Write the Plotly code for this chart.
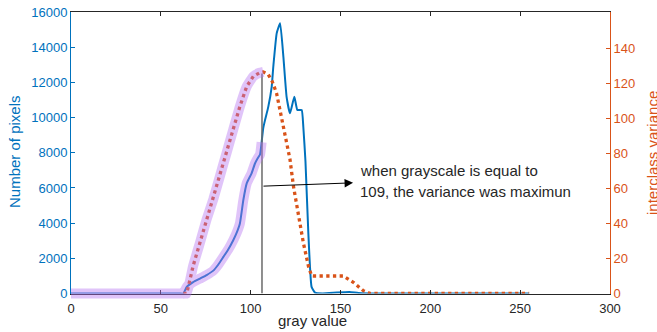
import plotly.graph_objects as go

# ---------------- data ----------------
hist_gray = [0, 20, 40, 60, 62.5, 64.4, 68, 71.8, 75.5, 79.2, 82, 84.8, 87.5, 90.3, 92, 94,
             95.9, 97.8, 100.5, 102.4, 104, 105.2, 106.1, 107, 108, 109.8, 111.7, 112.6,
             114.5, 116.4, 118.2, 120, 121.9, 124.3, 126, 128.4, 129.3, 130.5, 132.1,
             133.9, 135.8, 140, 148, 155, 160, 170, 200, 255]
hist_count = [0, 0, 0, 0, 0, 375, 650, 850, 1050, 1300, 1650, 2080, 2500, 3030, 3400, 3980,
              5300, 6260, 6830, 7390, 7700, 7900, 8600, 9400, 9860, 10610, 11750, 12890,
              14800, 15360, 13460, 11180, 10240, 11180, 10430, 10430, 9480, 7500, 3430,
              375, 50, 0, 50, 80, 30, 0, 0, 0]

var_gray = [62.5, 64.4, 68, 71.8, 75.5, 79.2, 82.9, 86.6, 90.3, 94, 97.8, 101.5, 105, 107,
            109.8, 112, 114.4, 118.2, 121.9, 123.8, 126.5, 129.3, 132.1, 133.9, 135,
            151.5, 157.1, 162.7, 166.4, 200, 255]
variance = [0, 0, 15.8, 29.1, 42.4, 53.8, 67, 80.3, 93.6, 106.8, 118.2, 124, 126, 126.5,
            125, 121, 114.4, 95.4, 76.5, 61.3, 44.3, 29.1, 15.8, 10.1, 10,
            10, 6.4, 1.6, 0, 0, 0]

# highlighted (purple) part of each curve
hl_hist_end = 106.1
hl_var_end = 107

threshold_gray = 106.3
threshold_top = 12500

arrow_tail = (106.3, 6100)
arrow_head = (157, 6290)
note_lines = ["when grayscale is equal to", "109, the variance was maximun"]
note_pos = [(159.9, 7013), (159.9, 5779)]

x_ticks = [0, 50, 100, 150, 200, 250, 300]
y_ticks = [0, 2000, 4000, 6000, 8000, 10000, 12000, 14000, 16000]
y2_ticks = [0, 20, 40, 60, 80, 100, 120, 140]

Y_MAX = 16000
Y2_MAX = 160.7

# ---------------- figure ----------------
BLUE = "#0072BD"
ORANGE = "#D95319"
DARK = "#262626"
FONT = "Liberation Sans, Arial, sans-serif"

W, H = 657, 332
ML, MT = 71, 12
MR = W - 610
MB = H - 302
plot_h = H - MT - MB
d = 8.5 / plot_h  # main axes start slightly above the bottom of the drawing area

fig = go.Figure()

fig.add_trace(go.Scatter(x=hist_gray, y=hist_count, mode="lines",
                         line=dict(color=BLUE, width=2, shape="spline", smoothing=0.4),
                         xaxis="x", yaxis="y", showlegend=False))
fig.add_trace(go.Scatter(x=var_gray, y=variance, mode="lines",
                         line=dict(color=ORANGE, width=3.3, dash="3.3px,3.4px"),
                         xaxis="x", yaxis="y2", showlegend=False))
fig.add_trace(go.Scatter(x=[threshold_gray, threshold_gray], y=[0, threshold_top], mode="lines",
                         line=dict(color="#6a6a6a", width=1.5), xaxis="x", yaxis="y",
                         showlegend=False))

# purple highlight band (on an axis sharing the left scale but with a larger clip area)
scale = Y_MAX / Y2_MAX
px_ = [g for g in hist_gray if g <= hl_hist_end]
py_ = [c for g, c in zip(hist_gray, hist_count) if g <= hl_hist_end]
vx_ = [g for g in var_gray if g <= hl_var_end]
vy_ = [v * scale for g, v in zip(var_gray, variance) if g <= hl_var_end]
fig.add_trace(go.Scatter(x=px_ + [None] + vx_, y=py_ + [None] + vy_, mode="lines",
                         line=dict(color="#B775F2", width=10, shape="spline", smoothing=0.4),
                         opacity=0.42, connectgaps=False, xaxis="x", yaxis="y3",
                         showlegend=False))

ann = []
ann.append(dict(x=arrow_head[0], y=arrow_head[1], ax=arrow_tail[0], ay=arrow_tail[1],
                xref="x", yref="y", axref="x", ayref="y", text="", showarrow=True,
                arrowhead=2, arrowsize=1.7, arrowwidth=1, arrowcolor="black", standoff=0))
for t, (gx, gy) in zip(note_lines, note_pos):
    ann.append(dict(x=gx, y=gy, xref="x", yref="y", text=t, showarrow=False,
                    xanchor="left", yanchor="middle", font=dict(family=FONT, size=15, color=DARK)))


def px_to_paper_x(p):
    return (p - ML) / (W - ML - MR)


def py_to_paper_y(p):
    return (H - MB - p) / plot_h


ann.append(dict(x=px_to_paper_x(14), y=py_to_paper_y(152), xref="paper", yref="paper",
                text="Number of pixels", textangle=-90, showarrow=False,
                xanchor="center", yanchor="middle", font=dict(family=FONT, size=15, color=BLUE)))
ann.append(dict(x=px_to_paper_x(652), y=py_to_paper_y(153), xref="paper", yref="paper",
                text="interclass variance", textangle=-90, showarrow=False,
                xanchor="center", yanchor="middle", font=dict(family=FONT, size=15, color=ORANGE)))
ann.append(dict(x=px_to_paper_x(312), y=py_to_paper_y(320), xref="paper", yref="paper",
                text="gray value", showarrow=False,
                xanchor="center", yanchor="middle", font=dict(family=FONT, size=15, color=DARK)))

fig.update_layout(
    width=W, height=H, margin=dict(l=ML, r=MR, t=MT, b=MB, pad=0, autoexpand=False),
    paper_bgcolor="white", plot_bgcolor="rgba(0,0,0,0)",
    font=dict(family=FONT, size=13, color=DARK),
    annotations=ann,
    xaxis=dict(range=[0, 300], tickvals=x_ticks, tickformat="d", ticks="inside", ticklen=4,
               tickcolor=DARK, showline=True, linecolor=DARK, linewidth=1, mirror="ticks",
               showgrid=False, zeroline=False, tickfont=dict(size=13, color=DARK),
               ticklabelstandoff=3, anchor="y", automargin=False),
    yaxis=dict(range=[0, Y_MAX], tickvals=y_ticks, tickformat="d", ticks="inside", ticklen=4,
               tickcolor=BLUE, showline=True, linecolor=BLUE, linewidth=1, showgrid=False,
               zeroline=False, tickfont=dict(size=13, color=BLUE), domain=[d, 1], anchor="x",
               automargin=False),
    yaxis2=dict(range=[0, Y2_MAX], tickvals=y2_ticks, tickformat="d", ticks="inside", ticklen=4,
                tickcolor=ORANGE, showline=True, linecolor=ORANGE, linewidth=1, showgrid=False,
                zeroline=False, tickfont=dict(size=13, color=ORANGE), side="right",
                overlaying="y", anchor="x", automargin=False),
    yaxis3=dict(range=[-Y_MAX * d / (1 - d), Y_MAX], domain=[0, 1], visible=False,
                anchor="x", showgrid=False, zeroline=False, automargin=False),
)

# the page's default body margin would shift the figure by 8px; remove it
fig.write_html("out.html", config={"displayModeBar": False},
               post_script="document.body.style.margin='0px';")
